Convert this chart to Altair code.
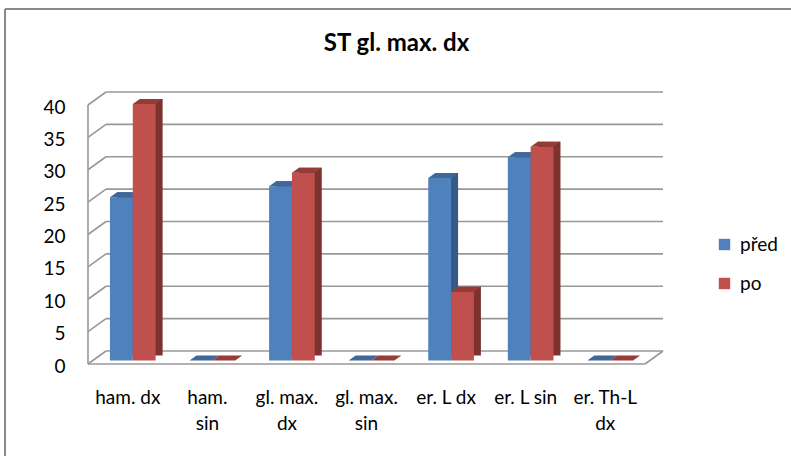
import altair as alt
import pandas as pd

# ---------------- data ----------------
categories = ["ham. dx", "ham. sin", "gl. max. dx", "gl. max. sin",
              "er. L dx", "er. L sin", "er. Th-L dx"]
cat_lines = [["ham. dx"], ["ham.", "sin"], ["gl. max.", "dx"], ["gl. max.", "sin"],
             ["er. L dx"], ["er. L sin"], ["er. Th-L", "dx"]]
series = ["před", "po"]
pred_values = [25.2, 0, 26.9, 0, 28.2, 31.4, 0]
po_values = [39.6, 0, 29.0, 0, 10.6, 33.0, 0]
y_ticks = [0, 5, 10, 15, 20, 25, 30, 35, 40]
title_text = "ST gl. max. dx"

# ---------------- styling ----------------
FONT = "Lato"
W, H = 557, 259          # front plane of the 3-D box
DX, DY = 18, -13         # depth of the box
front_col = {"před": "#4F81BD", "po": "#C0504D"}
side_col = {"před": "#37598A", "po": "#7D3230"}
top_col = {"před": "#3F679A", "po": "#973B38"}
GRID = "#989898"

rows = []
for s, vals in zip(series, [pred_values, po_values]):
    for c, v in zip(categories, vals):
        rows.append({"cat": c, "series": s, "v": v})
df = pd.DataFrame(rows)
grid_df = pd.DataFrame({"g": y_ticks})

# multi-line labels
expr = "datum.value"
for c, lines in reversed(list(zip(categories, cat_lines))):
    arr = "[" + ",".join("'" + l + "'" for l in lines) + "]"
    expr = f"datum.value == '{c}' ? {arr} : ({expr})"

STEP = W / len(categories)
BW = 22.84                      # one bar's width
PI = 1 - BW / STEP
xscale = alt.Scale(domain=categories, paddingInner=PI, paddingOuter=PI / 2)
yscale = alt.Scale(domain=[0, 40], nice=False, zero=True)

x_axis = alt.Axis(title=None, domain=False, ticks=False, labelAngle=0,
                  labelExpr=expr, labelFont=FONT, labelFontSize=19,
                  labelColor="#000000", labelBaseline="top",
                  labelPadding=24, labelLineHeight=26, labelLimit=200)
y_axis = alt.Axis(title=None, domain=False, ticks=False, grid=False, values=y_ticks,
                  labelFont=FONT, labelFontSize=19, labelColor="#000000",
                  labelPadding=23, labelOffset=2, labelOverlap=False,
                  labelFlush=False)


def X():
    return alt.X("cat:N", sort=categories, scale=xscale, axis=x_axis)


def Y(field):
    return alt.Y(field, scale=yscale, axis=y_axis, title=None)


base = alt.Chart(df)
gbase = alt.Chart(grid_df)
LW = 1.6

back_grid = gbase.mark_rule(color=GRID, strokeWidth=LW, yOffset=DY).encode(
    y=Y("g:Q"), x=alt.value(DX), x2=alt.value(W + DX))
diag_grid = gbase.mark_rule(color=GRID, strokeWidth=LW, y2Offset=DY).encode(
    y=Y("g:Q"), y2="g:Q", x=alt.value(0), x2=alt.value(DX))
floor_front = gbase.transform_filter("datum.g == 0").mark_rule(
    color=GRID, strokeWidth=LW).encode(
    y=Y("g:Q"), x=alt.value(0), x2=alt.value(W))
floor_right = gbase.transform_filter("datum.g == 0").mark_rule(
    color=GRID, strokeWidth=LW, y2Offset=DY).encode(
    y=Y("g:Q"), y2="g:Q", x=alt.value(W), x2=alt.value(W + DX))
left_edge = gbase.transform_aggregate(lo="min(g)", hi="max(g)").mark_rule(
    color=GRID, strokeWidth=LW).encode(
    y=Y("lo:Q"), y2="hi:Q", x=alt.value(0))

layers = [back_grid, diag_grid, floor_front, floor_right, left_edge]

FX, FY = 5, -3.5   # front face offset (bars sit a little inside the box)
SX, SY = 7, -5     # bar depth
color_enc = alt.Color("series:N", sort=series,
                      scale=alt.Scale(domain=series,
                                      range=[front_col[k] for k in series]),
                      legend=alt.Legend(title=None, orient="none", legendX=627,
                                        legendY=130, symbolType="square",
                                        symbolSize=130, symbolStrokeWidth=0,
                                        labelFont=FONT, labelFontSize=19,
                                        labelColor="#000000", rowPadding=19,
                                        labelOffset=6, padding=0))
for i, s in enumerate(series):
    sh = (i - 0.5) * BW + FX
    sb = base.transform_filter(f"datum.series == '{s}'")
    side = sb.transform_filter("datum.v > 0").mark_bar(
        color=side_col[s], xOffset=sh + SX, x2Offset=sh + SX,
        yOffset=FY + SY, y2Offset=FY + SY).encode(x=X(), y=Y("v:Q"))
    front = sb.mark_bar(xOffset=sh, x2Offset=sh, yOffset=FY, y2Offset=FY).encode(
        x=X(), y=Y("v:Q"), color=color_enc)
    top = sb.mark_point(
        shape="M -1 0.1667 L 0.523 0.1667 L 0.99 -0.1667 L -0.533 -0.1667 Z",
        filled=True, size=900, opacity=1, strokeWidth=0, color=top_col[s],
        xOffset=sh + 3.6, yOffset=FY - 2.5).encode(x=X(), y=Y("v:Q"))
    layers += [side, front, top]

# outer chart border (top and left, as in the cropped original)
border_top = gbase.transform_filter("datum.g == 0").mark_rule(
    color="#8A8A8A", strokeWidth=2).encode(
    x=alt.value(-83), x2=alt.value(W + 160), y=alt.value(-96))
border_left = gbase.transform_filter("datum.g == 0").mark_rule(
    color="#8A8A8A", strokeWidth=2).encode(
    x=alt.value(-83), y=alt.value(-96), y2=alt.value(H + 100))
layers += [border_top, border_left]

chart = alt.layer(*layers).properties(
    width=W, height=H,
    autosize=alt.AutoSizeParams(type="none"),
    padding={"left": 88, "top": 105, "right": 791 - 88 - W, "bottom": 456 - 105 - H},
    background="white",
    title=alt.TitleParams(title_text, font=FONT, fontSize=24, fontWeight="bold",
                          color="#000000", anchor="middle", frame="group",
                          dx=30, offset=-48),
).configure_view(stroke=None)

chart.save("out.html", embed_options={"renderer": "svg", "actions": False})
